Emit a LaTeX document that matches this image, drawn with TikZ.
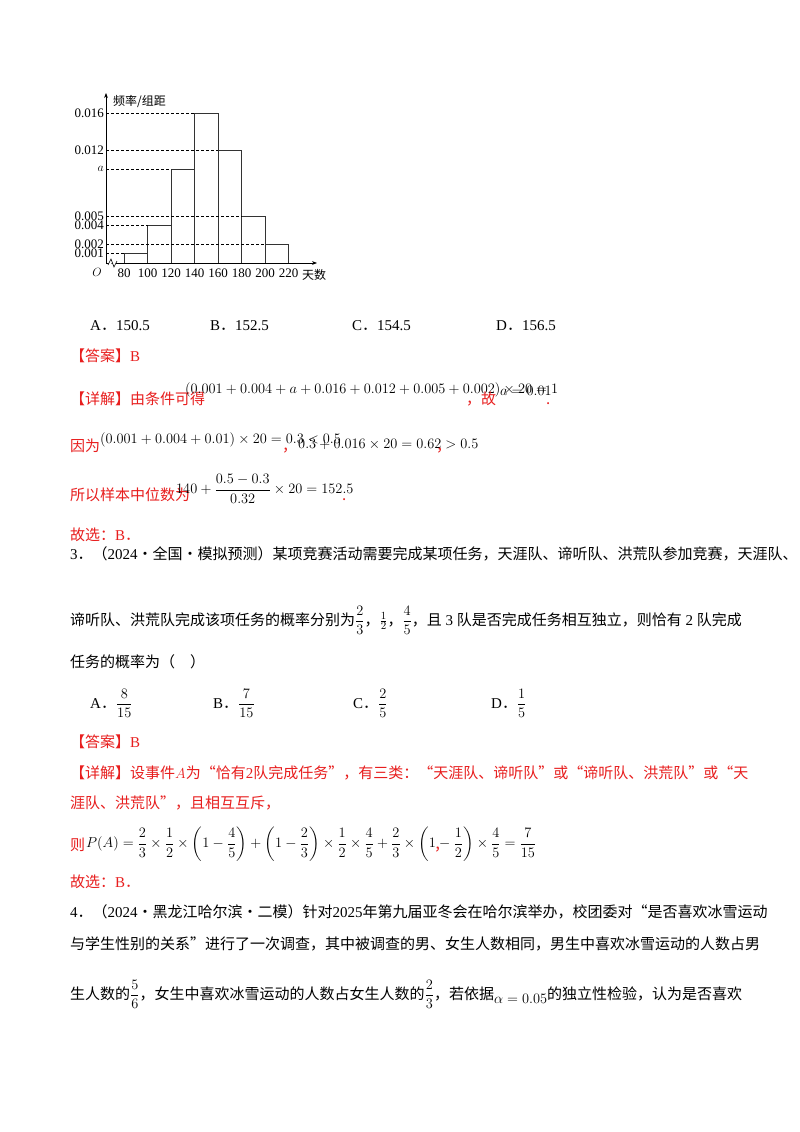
\documentclass[tikz,border=0pt]{standalone}
\usepackage{amsmath}
\usepackage{fontspec}
\usetikzlibrary{arrows.meta}
\setmainfont{Liberation Serif}
\newfontfamily\cjk{Noto Sans CJK SC}
\newcommand\T[1]{{\rmfamily #1}}
\definecolor{ansred}{RGB}{232,30,30}
\tikzset{
  line/.style={anchor=base west,inner sep=0pt,font=\fontsize{15}{18}\cjk},
  redline/.style={line,text=ansred},
  math/.style={anchor=west,inner sep=0pt,font=\fontsize{15}{18}\selectfont},
  lab/.style={inner sep=0pt,font=\fontsize{13}{15}\selectfont},
  bar/.style={draw=black!80,line width=0.7pt},
  guide/.style={dashed,line width=0.6pt,dash pattern=on 3pt off 2pt},
}
\begin{document}
\begin{tikzpicture}[x=1pt,y=-1pt]
\useasboundingbox[fill=white] (0,0) rectangle (800,1132);
% ---------- histogram ----------
\coordinate (o) at (106,263);
\coordinate (ytop) at (106,93);
\coordinate (xend) at (317,263);
\draw[line width=0.7pt,-{Stealth[length=5pt]}] (o) -- (ytop);
\draw[line width=0.7pt,-{Stealth[length=5pt]}] (o) -- (xend);
\draw[line width=0.6pt,fill=white] (108,265) -- (111,259) -- (114,267) -- (117,261);
\foreach \a/\b/\h in {124/147.5/253.6,147.5/171/225.5,171/194.5/169.2,194.5/218/113,218/241.5/150.5,241.5/265/216,265/288.5/244.2}{
  \draw[bar] (\a,263) -- (\a,\h) -- (\b,\h) -- (\b,263);
}
\foreach \h/\e/\t [count=\i] in {113/194.5/0.016,150.5/218/0.012,169.2/171/$a$,216/241.5/0.005,225.5/147.5/0.004,244.2/265/0.002,253.6/124/0.001}{
  \draw[guide] (106,\h) -- (\e,\h);
  \node[lab,anchor=east] (yl\i) at (104,\h) {\t};
}
\node[lab,anchor=west,font=\fontsize{12}{14}\cjk] (ylab) at (113,101) {频率/组距};
\node[lab] (O) at (97,272) {$O$};
\foreach \v/\x [count=\i] in {80/124,100/147.5,120/171,140/194.5,160/218,180/241.5,200/265,220/288.5}{
  \node[lab] (xl\i) at (\x,273) {\v};
}
\node[lab,anchor=west,font=\fontsize{12}{14}\cjk] (xlab) at (302,275) {天数};
% ---------- problem 2 options ----------
\node[line] (o2a) at (90,330) {\T{A}．\T{150.5}};
\node[line] (o2b) at (210,330) {\T{B}．\T{152.5}};
\node[line] (o2c) at (352,330) {\T{C}．\T{154.5}};
\node[line] (o2d) at (496,330) {\T{D}．\T{156.5}};
\node[redline] (ans2) at (70,361) {【答案】\T{B}};
\node[redline] (ex2a) at (70,404) {【详解】由条件可得};
\node[math] (f1) at (185,390) {$(0.001+0.004+a+0.016+0.012+0.005+0.002)\times 20=1$};
\node[redline] (c1) at (466,404) {，故};
\node[math] (f2) at (500,391) {$a=0.01$};
\node[redline] (p1) at (546,404) {.};
\node[redline] (ex2b) at (70,451) {因为};
\node[math] (f3) at (100,440) {$(0.001+0.004+0.01)\times 20=0.3<0.5$};
\node[redline] (c2) at (282,451) {，};
\node[math] (f4) at (298,444) {$0.3+0.016\times 20=0.62>0.5$};
\node[redline] (c3) at (436,451) {，};
\node[redline] (ex2c) at (70,500) {所以样本中位数为};
\node[math] (f5) at (176,489) {$140+\dfrac{0.5-0.3}{0.32}\times 20=152.5$};
\node[redline] (p2) at (342,500) {.};
\node[redline] (sel2) at (70,540) {故选：\T{B}．};
% ---------- problem 3 ----------
\node[line] (q3a) at (70,559) {\T{3}．（\T{2024}·全国·模拟预测）某项竞赛活动需要完成某项任务，天涯队、谛听队、洪荒队参加竞赛，天涯队、};
\node[line] (q3b) at (70,625) {谛听队、洪荒队完成该项任务的概率分别为$\dfrac{2}{3}$，$\frac{1}{2}$，$\dfrac{4}{5}$，且\T{ 3 }队是否完成任务相互独立，则恰有\T{ 2 }队完成};
\node[line] (q3c) at (70,667) {任务的概率为（\quad）};
\node[line] (o3a) at (90,708) {\T{A}．$\dfrac{8}{15}$};
\node[line] (o3b) at (213,708) {\T{B}．$\dfrac{7}{15}$};
\node[line] (o3c) at (353,708) {\T{C}．$\dfrac{2}{5}$};
\node[line] (o3d) at (491,708) {\T{D}．$\dfrac{1}{5}$};
\node[redline] (ans3) at (70,747) {【答案】\T{B}};
\node[redline] (ex3a) at (70,778) {【详解】设事件$A$为“恰有\T{2}队完成任务”，有三类：“天涯队、谛听队”或“谛听队、洪荒队”或“天};
\node[redline] (ex3b) at (70,808) {涯队、洪荒队”，且相互互斥，};
\node[redline] (ex3c) at (70,850) {则};
\node[math] (f6) at (86,844) {$P(A)=\dfrac{2}{3}\times\dfrac{1}{2}\times\left(1-\dfrac{4}{5}\right)+\left(1-\dfrac{2}{3}\right)\times\dfrac{1}{2}\times\dfrac{4}{5}+\dfrac{2}{3}\times\left(1-\dfrac{1}{2}\right)\times\dfrac{4}{5}=\dfrac{7}{15}$};
\node[redline] (c4) at (434,850) {，};
\node[redline] (sel3) at (70,887) {故选：\T{B}．};
% ---------- problem 4 ----------
\node[line] (q4a) at (70,917) {\T{4}．（\T{2024}·黑龙江哈尔滨·二模）针对\T{2025}年第九届亚冬会在哈尔滨举办，校团委对“是否喜欢冰雪运动};
\node[line] (q4b) at (70,949) {与学生性别的关系”进行了一次调查，其中被调查的男、女生人数相同，男生中喜欢冰雪运动的人数占男};
\node[line] (q4c) at (70,999) {生人数的$\dfrac{5}{6}$，女生中喜欢冰雪运动的人数占女生人数的$\dfrac{2}{3}$，若依据\raisebox{-4pt}{$\alpha=0.05$}的独立性检验，认为是否喜欢};
\end{tikzpicture}
\end{document}
